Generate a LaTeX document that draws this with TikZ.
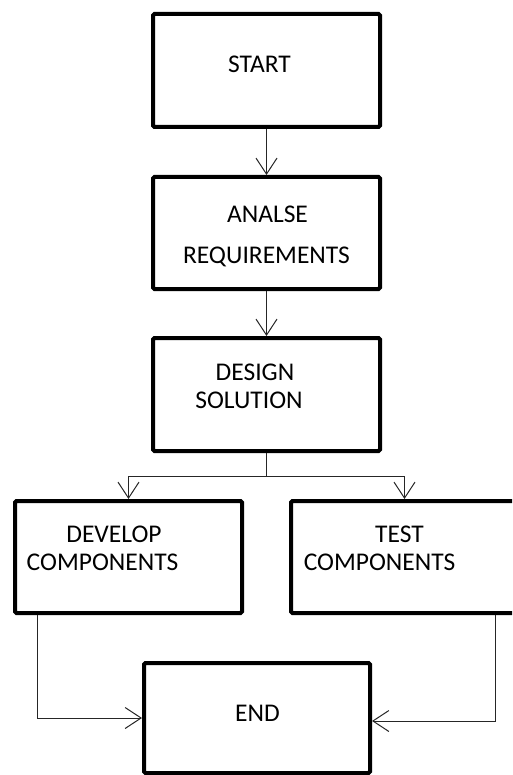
\documentclass[tikz,border=0pt]{standalone}
\usepackage{fontspec}
\setmainfont{Carlito}
\usetikzlibrary{arrows.meta}
\begin{document}
\begin{tikzpicture}[x=1pt,y=-1pt,
  box/.style={draw=black, line width=4pt, rounded corners=1.5pt, inner sep=0pt,
    minimum width=227pt, minimum height=112pt},
  txt/.style={anchor=base, inner sep=0pt, text=black, font=\fontsize{25.5pt}{30pt}\selectfont},
  conn/.style={draw=black!85, line width=1pt},
  link/.style={conn, -{Straight Barb[length=16pt,width=21pt,line width=1pt]}}]
\useasboundingbox (0,0) rectangle (512,775);
\clip (0,0) rectangle (512,775);
% boxes
\node[box, minimum height=113pt] (start) at (266.5,70.5) {};
\node[box] (ana) at (266.5,233) {};
\node[box, minimum height=113pt] (des) at (266.5,394.5) {};
\node[box] (dev) at (128.5,557) {};
\node[box, minimum width=260pt] (test) at (421,557) {};
\node[box, minimum width=226pt, minimum height=110pt] (fin) at (257,718) {};
% texts
\node[txt] (tstart) at (259.5,73) {START};
\node[txt] (tana1) at (267.5,223) {ANALSE};
\node[txt] (tana2) at (266.5,263) {REQUIREMENTS};
\node[txt] (tdes1) at (255,380) {DESIGN};
\node[txt] (tdes2) at (249,408) {SOLUTION};
\node[txt] (tdev1) at (114,542) {DEVELOP};
\node[txt] (tdev2) at (102.5,570) {COMPONENTS};
\node[txt] (ttest1) at (399.5,542) {TEST};
\node[txt] (ttest2) at (379.5,570) {COMPONENTS};
\node[txt] (tfin) at (257.5,721) {END};
% connectors
\draw[link] (start.south) -- (ana.north);
\draw[link] (ana.south) -- (des.north);
\coordinate (split) at (266.5,476);
\draw[conn] (des.south) -- (split);
\draw[link] (split) -| (dev.north);
\draw[link] (split) -| ([xshift=115.5pt]test.north west);
\draw[link] ([xshift=24pt]dev.south west) |- (fin.west);
\draw[link] ([xshift=206pt]test.south west) |- ([yshift=-3pt]fin.east);
\end{tikzpicture}
\end{document}
